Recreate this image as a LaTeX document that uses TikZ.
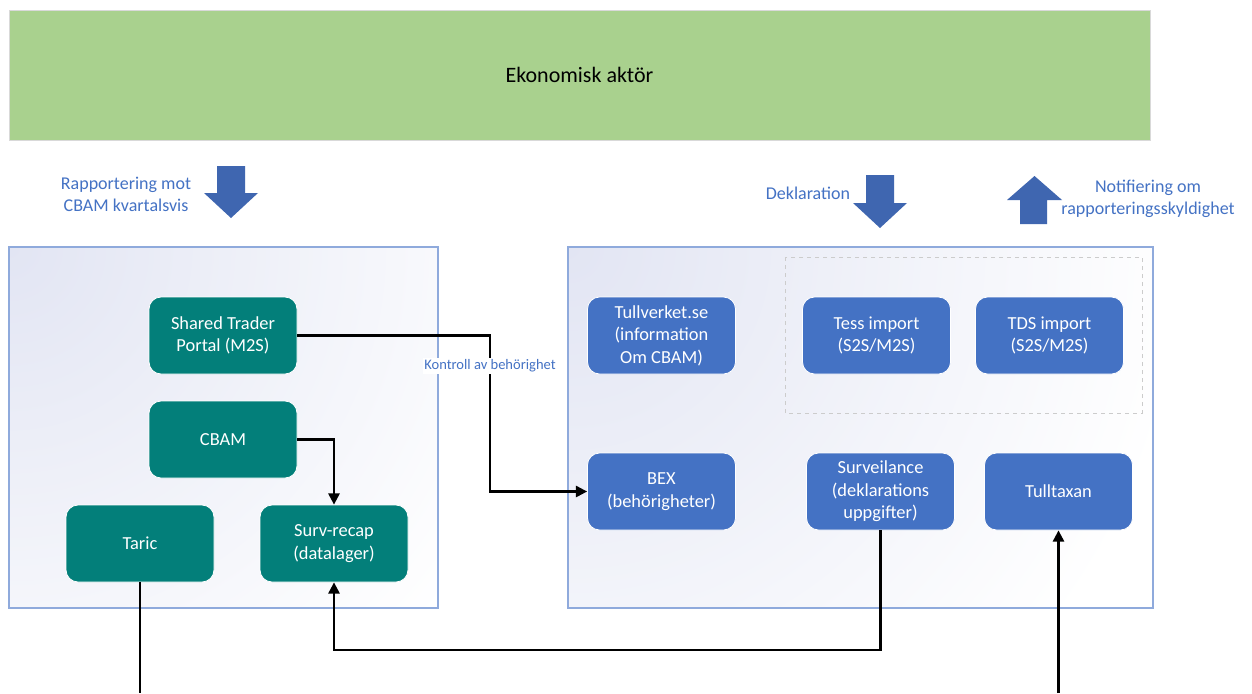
\documentclass[tikz,border=0pt]{standalone}
\usepackage{fontspec}
\setmainfont{Carlito}
\usetikzlibrary{arrows.meta,calc}
\definecolor{barGreen}{HTML}{A9D18E}
\definecolor{tealBox}{HTML}{037F7A}
\definecolor{blueBox}{HTML}{4472C4}
\definecolor{bigArrow}{HTML}{3F66B0}
\definecolor{labelBlue}{HTML}{4472C4}
\definecolor{contBorder}{HTML}{8FAADC}
\definecolor{contTint}{HTML}{E2E5F3}
\tikzset{
  box/.style={rounded corners=9pt, draw=white, line width=0.6pt, text=white,
    minimum width=111pt, minimum height=57.75pt, inner sep=0pt, align=center,
    font=\fontsize{13.8pt}{16.8pt}\selectfont},
  tealnode/.style={box, fill=tealBox},
  bluenode/.style={box, fill=blueBox},
  lbl/.style={text=labelBlue, align=center, font=\fontsize{13.5pt}{16.5pt}\selectfont},
  conn/.style={draw=black, line width=1.6pt},
  tip/.style={-{Triangle[length=8.5pt,width=8.5pt]}},
  container/.style={draw=contBorder, line width=1pt},
  bigarr/.style={fill=bigArrow, draw=none}
}
\begin{document}
\begin{tikzpicture}[x=0.75pt,y=-0.75pt]
\useasboundingbox (0,0) rectangle (1252,693);
\fill[white] (0,0) rectangle (1252,693);

% top bar
\node[draw=black!15, fill=barGreen, minimum width=855.75pt, minimum height=97.5pt, inner sep=0pt,
  font=\fontsize{16.5pt}{20pt}\selectfont] (bar) at (579.5,75) {Ekonomisk aktör};

% big arrows
\path[bigarr] (217,166) -- (245,166) -- (245,193) -- (258,193) -- (231,218) -- (204,193) -- (217,193) -- cycle;
\path[bigarr] (866,175) -- (894,175) -- (894,203) -- (907,203) -- (880,228) -- (853,203) -- (866,203) -- cycle;
\path[bigarr] (1034.5,176) -- (1062,200) -- (1047,200) -- (1047,224) -- (1020,224) -- (1020,200) -- (1007,200) -- cycle;

% labels above
\node[lbl] (rap) at (126,194) {Rapportering mot\\CBAM kvartalsvis};
\node[lbl] (dek) at (808,193) {Deklaration};
\node[lbl] (not) at (1148,199) {Notifiering om\\rapporteringsskyldighet};

% containers
\begin{scope}
\clip (9,247) rectangle (438,608);
\shade[inner color=contTint, outer color=white] (9,247) circle (560);
\end{scope}
\draw[container] (9,247) rectangle (438,608);
\begin{scope}
\clip (568,247) rectangle (1153,608);
\shade[inner color=contTint, outer color=white] (568,247) circle (620);
\end{scope}
\draw[container] (568,247) rectangle (1153,608);
\draw[black!20, dashed, line width=0.6pt] (785,257) rectangle (1142,413);

% teal nodes
\node[tealnode] (stp) at (223,335.5) {Shared Trader\\Portal (M2S)};
\node[tealnode] (cbam) at (223,439.5) {CBAM};
\node[tealnode] (taric) at (140,543.5) {Taric};
\node[tealnode] (surv) at (334,543.5) {Surv-recap\\(datalager)};

% blue nodes
\node[bluenode] (tull) at (661.5,335.5) {Tullverket.se\\(information\\Om CBAM)};
\node[bluenode] (tess) at (876.5,335.5) {Tess import\\(S2S/M2S)};
\node[bluenode] (tds) at (1049.5,335.5) {TDS import\\(S2S/M2S)};
\node[bluenode] (bex) at (661.5,491.5) {BEX\\(behörigheter)};
\node[bluenode] (surveil) at (880.5,491.5) {Surveilance\\(deklarations\\uppgifter)};
\node[bluenode] (taxan) at (1058.5,491.5) {Tulltaxan};

% connectors
\coordinate (kx) at (490,0);
\coordinate (lowy) at (0,650);
\coordinate (taricEnd) at (140,693);
\coordinate (taxanStart) at (1058.5,693);

\draw[conn, tip] (stp.east) -| (kx |- bex.west) -- (bex.west);
\node[text=labelBlue, fill=white, inner sep=1pt, font=\fontsize{10.9pt}{12pt}\selectfont] (kontroll) at (490,366) {Kontroll av behörighet};
\draw[conn, tip] (cbam.east) -| (surv.north);
\draw[conn, tip] (surveil.south) -- (surveil.south |- lowy) -| (surv.south);
\draw[conn] (taric.south) -- (taricEnd);
\draw[conn, tip] (taxanStart) -- (taxan.south);
\end{tikzpicture}
\end{document}
